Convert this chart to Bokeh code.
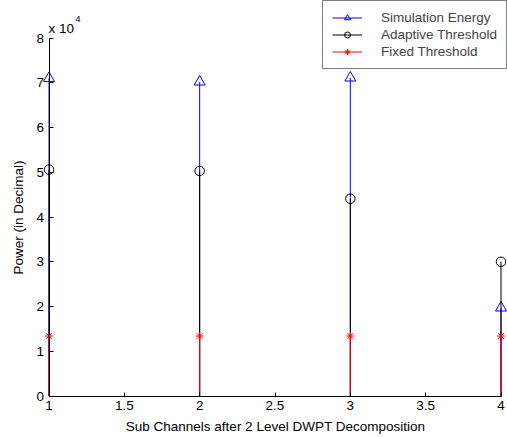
from bokeh.plotting import figure
from bokeh.models import (Range1d, FixedTicker, CustomJSTickFormatter, Legend, LegendItem,
                          Label, ColumnDataSource)
from bokeh.embed import file_html
from bokeh.resources import INLINE

# Data
channels = [1, 2, 3, 4]
simulation_energy = [71000, 70200, 71100, 19700]
adaptive_threshold = [50600, 50300, 44100, 30000]
fixed_threshold = [13400, 13400, 13400, 13400]
x_ticks = [1, 1.5, 2, 2.5, 3, 3.5, 4]
y_ticks = [0, 10000, 20000, 30000, 40000, 50000, 60000, 70000, 80000]

FONT = "Liberation Sans"
W, H = 507, 437
# pixel layout of the axes box inside the canvas
X0_PX, X1_PX = 48.5, 500.5
Y0_PX, Y1_PX = 395.5, 37.5   # canvas y (from top) of 0 and 8e4
XMIN, XMAX = 1, 4
YMIN, YMAX = 0, 80000

xs = (XMAX - XMIN) / (X1_PX - X0_PX)
ys = (YMAX - YMIN) / (Y0_PX - Y1_PX)
x_range = Range1d(XMIN - X0_PX * xs, XMAX + (W - X1_PX) * xs)
y_range = Range1d(YMIN - (H - Y0_PX) * ys, YMAX + Y1_PX * ys)

p = figure(width=W, height=H, output_backend="svg", toolbar_location=None,
           x_range=x_range, y_range=y_range,
           min_border=0, min_border_left=0, min_border_right=0,
           min_border_top=0, min_border_bottom=0)
p.outline_line_color = None
p.grid.visible = False
p.background_fill_color = "white"
p.border_fill_color = "white"

zeros = [0] * len(channels)
src = ColumnDataSource(dict(x=channels, zero=zeros, se=simulation_energy,
                            at=adaptive_threshold, ft=fixed_threshold))

seg_se = p.segment(x0="x", y0="zero", x1="x", y1="se", source=src, line_color="#0000ff", line_width=1)
mk_se = p.scatter(x="x", y="se", source=src, marker="triangle", size=11,
                  line_color="#0000ff", fill_color=None, line_width=1)
seg_at = p.segment(x0="x", y0="zero", x1="x", y1="at", source=src, line_color="black", line_width=1)
mk_at = p.scatter(x="x", y="at", source=src, marker="circle", size=9.5,
                  line_color="black", fill_color=None, line_width=1)
seg_ft = p.segment(x0="x", y0="zero", x1="x", y1="ft", source=src, line_color="#ff0000", line_width=1)
mk_ft = p.scatter(x="x", y="ft", source=src, marker="asterisk", size=8,
                  line_color="#ff0000", line_width=1)

for ax in (p.xaxis[0], p.yaxis[0]):
    ax.major_label_text_font = FONT
    ax.major_label_text_font_size = "13.5px"
    ax.major_label_text_color = "black"
    ax.axis_label_text_font = FONT
    ax.axis_label_text_font_size = "13.5px"
    ax.axis_label_text_font_style = "normal"
    ax.axis_label_text_color = "black"
    ax.axis_line_color = "black"
    ax.major_tick_line_color = "black"
    ax.major_tick_in = 4
    ax.major_tick_out = 0
    ax.minor_tick_line_color = None

p.xaxis.ticker = FixedTicker(ticks=x_ticks)
p.xaxis.formatter = CustomJSTickFormatter(code="return tick.toString();")
p.xaxis.axis_label = "Sub Channels after 2 Level DWPT Decomposition"
p.xaxis.major_label_standoff = 5
p.xaxis.axis_label_standoff = 5
p.xaxis.fixed_location = YMIN
p.xaxis.bounds = (XMIN, XMAX)

p.yaxis.ticker = FixedTicker(ticks=y_ticks)
p.yaxis.formatter = CustomJSTickFormatter(code="return (tick/10000).toString();")
p.yaxis.axis_label = "Power (in Decimal)"
p.yaxis.major_label_standoff = 5
p.yaxis.axis_label_standoff = 8
p.yaxis.fixed_location = XMIN
p.yaxis.bounds = (YMIN, YMAX)

p.add_layout(Label(x=48, y=H - 28, x_units="screen", y_units="screen", text="x 10",
                   text_baseline="alphabetic",
                   text_font=FONT, text_font_size="13.5px", text_color="black"))
p.add_layout(Label(x=75, y=H - 18, x_units="screen", y_units="screen", text="4",
                   text_baseline="alphabetic",
                   text_font=FONT, text_font_size="9px", text_color="black"))

legend = Legend(items=[
    LegendItem(label="Simulation Energy", renderers=[seg_se, mk_se]),
    LegendItem(label="Adaptive Threshold", renderers=[seg_at, mk_at]),
    LegendItem(label="Fixed Threshold", renderers=[seg_ft, mk_ft]),
], location=(322, H - 69))
legend.label_text_font = FONT
legend.label_text_font_size = "13.5px"
legend.border_line_color = "black"
legend.border_line_width = 1
legend.background_fill_color = "white"
legend.background_fill_alpha = 1
legend.glyph_width = 30
legend.glyph_height = 15
legend.label_height = 15
legend.spacing = 2
legend.padding = 9
legend.margin = 0
legend.label_standoff = 19
p.add_layout(legend, "center")

open("out.html", "w").write(file_html(p, INLINE))
